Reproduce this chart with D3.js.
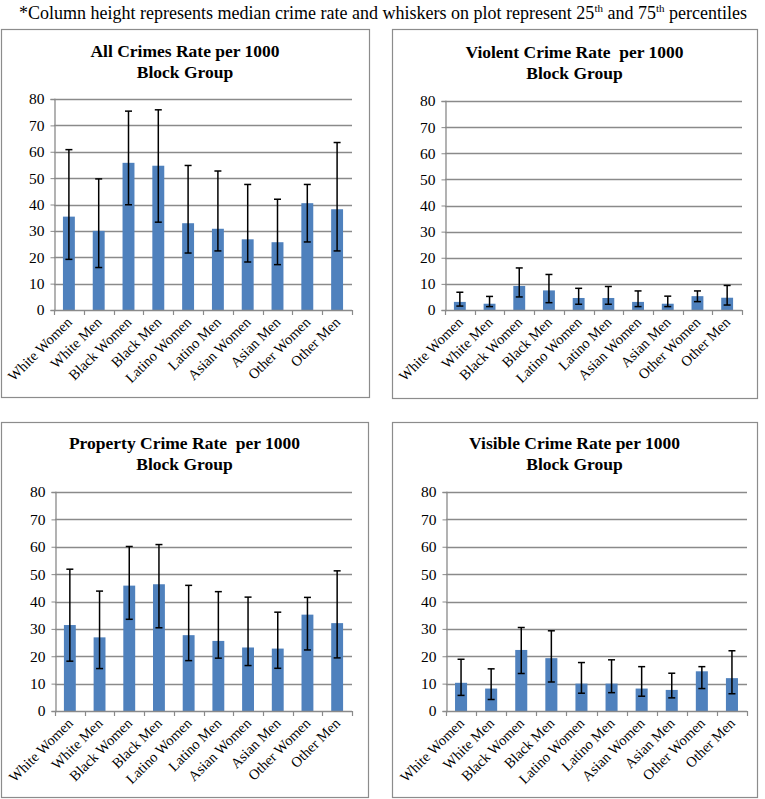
<!DOCTYPE html>
<html>
<head>
<meta charset="utf-8">
<script src="https://cdn.jsdelivr.net/npm/d3@7"></script>
<style>
  body { margin: 0; background: #fff; }
</style>
</head>
<body>
<svg id="chart" width="765" height="799"></svg>
<script>
// ---------------------------------
// data
// ---------------------------------

var categories = ['White Women', 'White Men', 'Black Women', 'Black Men', 'Latino Women',
  'Latino Men', 'Asian Women', 'Asian Men', 'Other Women', 'Other Men'];

var yTicks = [0, 10, 20, 30, 40, 50, 60, 70, 80];

// all crimes
var allMedian = [35.4, 30.0, 55.8, 54.7, 32.9, 30.8, 26.8, 25.7, 40.5, 38.2];
var allP25 = [19.2, 16.1, 39.9, 33.3, 21.6, 22.4, 18.2, 17.2, 25.8, 22.4];
var allP75 = [60.8, 49.7, 75.4, 75.9, 54.8, 52.7, 47.6, 42.0, 47.6, 63.5];

// violent crime
var violentMedian = [3.1, 2.4, 9.2, 7.5, 4.6, 4.6, 3.1, 2.4, 5.3, 4.7];
var violentP25 = [1.5, 1.3, 5.0, 2.8, 2.2, 2.2, 1.3, 1.3, 3.2, 1.9];
var violentP75 = [6.8, 5.2, 16.1, 13.6, 8.3, 9.0, 7.3, 5.3, 7.3, 9.4];

// property crime
var propertyMedian = [31.4, 26.9, 45.8, 46.3, 27.7, 25.6, 23.2, 22.8, 35.2, 32.1];
var propertyP25 = [18.2, 15.5, 33.5, 30.4, 18.4, 19.3, 16.6, 15.6, 22.3, 19.4];
var propertyP75 = [51.8, 43.8, 60.1, 60.8, 45.9, 43.6, 41.6, 36.1, 41.5, 51.2];

// visible crime
var visibleMedian = [10.3, 8.2, 22.3, 19.3, 10.0, 10.0, 8.2, 7.7, 14.5, 12.0];
var visibleP25 = [5.7, 4.2, 13.7, 10.6, 6.5, 6.7, 5.4, 4.8, 8.2, 6.3];
var visibleP75 = [18.9, 15.4, 30.5, 29.3, 17.7, 18.7, 16.2, 13.8, 16.2, 22.0];

var FONT = '"Liberation Serif"';

// ---------------------------------
// panel layout
// ---------------------------------

var panels = [
  { title: ['All Crimes Rate per 1000', 'Block Group'], median: allMedian, p25: allP25, p75: allP75,
    box: { x: 1, y: 29, w: 368, h: 368 }, plot: { x0: 54, x1: 352, yTop: 99, yBottom: 310 }, titleY: 51 },
  { title: ['Violent Crime Rate  per 1000', 'Block Group'], median: violentMedian, p25: violentP25, p75: violentP75,
    box: { x: 392, y: 29, w: 365, h: 369 }, plot: { x0: 445, x1: 742, yTop: 101, yBottom: 310 }, titleY: 52 },
  { title: ['Property Crime Rate  per 1000', 'Block Group'], median: propertyMedian, p25: propertyP25, p75: propertyP75,
    box: { x: 1, y: 422, w: 367, h: 375 }, plot: { x0: 55, x1: 352, yTop: 492, yBottom: 711 }, titleY: 443 },
  { title: ['Visible Crime Rate per 1000', 'Block Group'], median: visibleMedian, p25: visibleP25, p75: visibleP75,
    box: { x: 392, y: 422, w: 365, h: 375 }, plot: { x0: 446, x1: 747, yTop: 492, yBottom: 711 }, titleY: 443 }
];

var svg = d3.select('#chart');

// header note
var note = svg.append('text')
  .attr('x', 383)
  .attr('y', 19)
  .attr('text-anchor', 'middle')
  .style('font-family', FONT)
  .style('font-size', '18px')
  .attr('fill', '#000');
note.append('tspan').text('*Column height represents median crime rate and whiskers on plot represent 25');
note.append('tspan').style('font-size', '11px').attr('dy', -7).text('th');
note.append('tspan').attr('dy', 7).text(' and 75');
note.append('tspan').style('font-size', '11px').attr('dy', -7).text('th');
note.append('tspan').attr('dy', 7).text(' percentiles');

var renderPanel = function (p) {
  var g = svg.append('g').attr('class', 'panel');

  // panel border
  g.append('rect')
    .attr('x', p.box.x + 0.5)
    .attr('y', p.box.y + 0.5)
    .attr('width', p.box.w)
    .attr('height', p.box.h)
    .attr('fill', '#fff')
    .attr('stroke', '#8c8c8c')
    .attr('stroke-width', 1.2);

  // title
  g.append('text')
    .attr('x', p.box.x + p.box.w / 2)
    .attr('y', p.titleY)
    .attr('text-anchor', 'middle')
    .style('font-family', FONT)
    .style('font-size', '17.5px')
    .style('font-weight', 'bold')
    .style('white-space', 'pre')
    .selectAll('tspan')
    .data(p.title)
    .enter().append('tspan')
    .attr('x', p.box.x + p.box.w / 2)
    .attr('dy', function (d, i) { return i === 0 ? 6 : 21; })
    .text(function (d) { return d; });

  var x = d3.scaleBand().domain(categories).range([p.plot.x0, p.plot.x1]).paddingInner(0.6).paddingOuter(0.3);
  var xTicks = d3.scaleLinear().domain([0, categories.length]).range([p.plot.x0, p.plot.x1]);
  var y = d3.scaleLinear().domain([0, 80]).range([p.plot.yBottom, p.plot.yTop]);

  // gridlines
  g.append('g')
    .selectAll('line')
    .data(yTicks.slice(1))
    .enter().append('line')
    .attr('x1', p.plot.x0)
    .attr('x2', p.plot.x1)
    .attr('y1', function (d) { return Math.round(y(d)) + 0.5; })
    .attr('y2', function (d) { return Math.round(y(d)) + 0.5; })
    .attr('stroke', '#8a8a8a')
    .attr('stroke-width', 1.3);

  // y axis
  var yAxis = g.append('g')
    .attr('transform', 'translate(' + (p.plot.x0 + 0.5) + ',0)')
    .call(d3.axisLeft(y).tickValues(yTicks).tickSize(4).tickPadding(6).tickFormat(d3.format('d')));
  yAxis.select('.domain').attr('stroke', '#8a8a8a').attr('stroke-width', 1.3);
  yAxis.selectAll('.tick line').attr('stroke', '#8a8a8a');
  yAxis.selectAll('.tick text')
    .style('font-family', FONT)
    .style('font-size', '15.5px')
    .attr('fill', '#000');

  // bars
  g.append('g')
    .selectAll('rect')
    .data(p.median)
    .enter().append('rect')
    .attr('x', function (d, i) { return x(categories[i]); })
    .attr('y', function (d) { return y(d); })
    .attr('width', x.bandwidth())
    .attr('height', function (d) { return y(0) - y(d); })
    .attr('fill', '#4f81bd');

  // x axis line and ticks between categories
  g.append('line')
    .attr('x1', p.plot.x0)
    .attr('x2', p.plot.x1)
    .attr('y1', Math.round(y(0)) + 0.5)
    .attr('y2', Math.round(y(0)) + 0.5)
    .attr('stroke', '#8a8a8a')
    .attr('stroke-width', 1.3);
  g.append('g')
    .selectAll('line')
    .data(d3.range(categories.length + 1))
    .enter().append('line')
    .attr('x1', function (d) { return Math.round(xTicks(d)) + 0.5; })
    .attr('x2', function (d) { return Math.round(xTicks(d)) + 0.5; })
    .attr('y1', y(0))
    .attr('y2', y(0) + 5)
    .attr('stroke', '#8a8a8a')
    .attr('stroke-width', 1.2);

  // whiskers
  var whisker = g.append('g')
    .selectAll('g')
    .data(p.median.map(function (d, i) { return { i: i, lo: p.p25[i], hi: p.p75[i] }; }))
    .enter().append('g')
    .attr('stroke', '#000')
    .attr('stroke-width', 1.5);
  var cx = function (d) { return x(categories[d.i]) + x.bandwidth() / 2; };
  whisker.append('line')
    .attr('x1', cx).attr('x2', cx)
    .attr('y1', function (d) { return y(d.lo); })
    .attr('y2', function (d) { return y(d.hi); });
  whisker.append('line')
    .attr('x1', function (d) { return cx(d) - 3.5; }).attr('x2', function (d) { return cx(d) + 3.5; })
    .attr('y1', function (d) { return y(d.lo); })
    .attr('y2', function (d) { return y(d.lo); });
  whisker.append('line')
    .attr('x1', function (d) { return cx(d) - 3.5; }).attr('x2', function (d) { return cx(d) + 3.5; })
    .attr('y1', function (d) { return y(d.hi); })
    .attr('y2', function (d) { return y(d.hi); });

  // category labels
  g.append('g')
    .selectAll('text')
    .data(categories)
    .enter().append('text')
    .attr('transform', function (d) {
      return 'translate(' + (x(d) + x.bandwidth() / 2 + 4) + ',' + (y(0) + 13) + ') rotate(-45)';
    })
    .attr('text-anchor', 'end')
    .style('font-family', FONT)
    .style('font-size', '14.5px')
    .attr('fill', '#000')
    .text(function (d) { return d; });
};

panels.forEach(renderPanel);
</script>
</body>
</html>
